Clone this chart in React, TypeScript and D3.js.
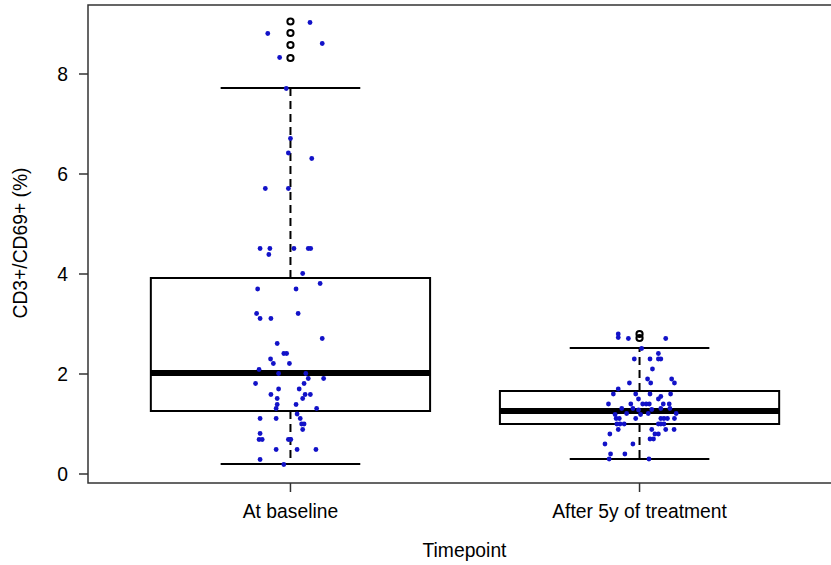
import React from "react";
import * as d3 from "d3";

const categories = ["At baseline", "After 5y of treatment"];
// [lower whisker, Q1, median, Q3, upper whisker]
const boxStats = [
  [0.2, 1.26, 2.02, 3.92, 7.72],
  [0.3, 1.0, 1.26, 1.66, 2.52],
];
const outliers = [
  [9.05, 8.82, 8.58, 8.32],
  [2.8, 2.72],
];
const yTicks = [0, 2, 4, 6, 8];

// [jitter offset (category units), value]
const baselinePoints: [number, number][] = [
  [0.056, 9.03], [-0.065, 8.81], [0.091, 8.61], [-0.031, 8.33], [-0.012, 7.71],
  [0.0, 6.71], [-0.006, 6.42], [0.061, 6.31], [-0.072, 5.71], [-0.006, 5.71],
  [-0.087, 4.51], [-0.059, 4.51], [-0.062, 4.39], [0.01, 4.51], [0.051, 4.51],
  [0.058, 4.51], [0.035, 4.01], [0.085, 3.81], [-0.094, 3.7], [0.016, 3.7],
  [-0.097, 3.21], [-0.087, 3.11], [-0.056, 3.11], [0.022, 3.21], [0.091, 2.71],
  [-0.038, 2.61], [-0.019, 2.41], [-0.011, 2.41], [-0.057, 2.3], [-0.049, 2.21],
  [-0.003, 2.21], [-0.09, 2.09], [-0.034, 2.01], [0.044, 2.01], [0.051, 1.91],
  [0.095, 1.91], [-0.1, 1.81], [0.039, 1.81], [-0.034, 1.7], [0.025, 1.7],
  [-0.056, 1.59], [0.042, 1.59], [0.057, 1.59], [-0.038, 1.51], [0.035, 1.51],
  [-0.038, 1.39], [0.016, 1.39], [-0.041, 1.31], [0.075, 1.31], [0.019, 1.2],
  [-0.087, 1.11], [-0.041, 1.11], [0.028, 1.11], [0.032, 1.0], [0.039, 1.0],
  [0.035, 0.89], [-0.087, 0.81], [-0.09, 0.69], [-0.081, 0.69], [-0.006, 0.69],
  [0.001, 0.69], [-0.041, 0.49], [0.019, 0.49], [0.073, 0.49], [-0.087, 0.29],
  [-0.019, 0.19],
];
const afterPoints: [number, number][] = [
  [-0.061, 2.8], [-0.061, 2.73], [-0.032, 2.71], [0.075, 2.71], [0.006, 2.51],
  [0.054, 2.41], [-0.015, 2.3], [0.03, 2.3], [0.054, 2.3], [0.061, 2.3],
  [0.037, 2.1], [0.023, 1.9], [0.092, 1.9], [-0.029, 1.82], [0.032, 1.82],
  [0.1, 1.82], [-0.061, 1.7], [-0.075, 1.6], [-0.011, 1.6], [0.03, 1.6],
  [0.089, 1.6], [-0.003, 1.5], [0.054, 1.5], [0.061, 1.55], [-0.089, 1.4],
  [-0.025, 1.4], [0.009, 1.4], [0.019, 1.4], [0.028, 1.4], [0.068, 1.4],
  [0.085, 1.4], [-0.051, 1.31], [-0.019, 1.31], [-0.003, 1.28], [0.035, 1.29],
  [0.061, 1.31], [0.087, 1.31], [-0.07, 1.19], [-0.037, 1.21], [0.025, 1.21],
  [0.105, 1.21], [-0.067, 1.11], [-0.058, 1.11], [-0.011, 1.11], [0.003, 1.19],
  [0.061, 1.11], [0.07, 1.11], [0.08, 1.11], [0.1, 1.11], [-0.065, 1.0],
  [-0.056, 1.0], [-0.044, 1.0], [0.054, 1.0], [0.061, 1.0], [0.07, 1.0],
  [-0.061, 0.89], [0.035, 0.89], [0.075, 0.89], [0.099, 0.89], [-0.085, 0.8],
  [0.044, 0.8], [0.054, 0.8], [0.03, 0.7], [0.04, 0.7], [-0.099, 0.6],
  [-0.019, 0.6], [-0.083, 0.4], [-0.042, 0.4], [-0.087, 0.3], [0.027, 0.3],
];
const groupPoints = [baselinePoints, afterPoints];

const W = 831;
const H = 565;
const left = 88;
const top = 5;
const bottom = 483;
const right = 842;

export default function App() {
  const x = d3.scaleLinear().domain([0.42, 2.58]).range([left, right]);
  const y = d3.scaleLinear().domain([-0.18, 9.38]).range([bottom, top]);
  const font = "Liberation Sans, Arial, sans-serif";
  const fs = 19.3;
  const boxHalf = 0.4;
  const stapleHalf = 0.2;
  return (
    <svg
      width={W}
      height={H}
      style={{ position: "absolute", left: 0, top: 0, background: "#fff" }}
      fontFamily={font}
    >
      <rect x={0} y={0} width={W} height={H} fill="#fff" />
      {boxStats.map((s, i) => {
        const c = i + 1;
        const [lw, q1, med, q3, uw] = s;
        return (
          <g key={i}>
            <line x1={x(c)} x2={x(c)} y1={y(q3)} y2={y(uw)} stroke="#000" strokeWidth={2} strokeDasharray="8,5" />
            <line x1={x(c)} x2={x(c)} y1={y(q1)} y2={y(lw)} stroke="#000" strokeWidth={2} strokeDasharray="8,5" />
            <line x1={x(c - stapleHalf)} x2={x(c + stapleHalf)} y1={y(uw)} y2={y(uw)} stroke="#000" strokeWidth={2} />
            <line x1={x(c - stapleHalf)} x2={x(c + stapleHalf)} y1={y(lw)} y2={y(lw)} stroke="#000" strokeWidth={2} />
            <rect
              x={x(c - boxHalf)}
              y={y(q3)}
              width={x(c + boxHalf) - x(c - boxHalf)}
              height={y(q1) - y(q3)}
              fill="none"
              stroke="#000"
              strokeWidth={2}
            />
            <line x1={x(c - boxHalf)} x2={x(c + boxHalf)} y1={y(med)} y2={y(med)} stroke="#000" strokeWidth={6} />
            {outliers[i].map((v, k) => (
              <circle key={k} cx={x(c)} cy={y(v)} r={3.1} fill="none" stroke="#000" strokeWidth={2} />
            ))}
          </g>
        );
      })}
      {groupPoints.map((pts, i) =>
        pts.map(([j, v], k) => (
          <circle key={`${i}-${k}`} cx={x(i + 1 + j)} cy={y(v)} r={2.4} fill="#1212c8" />
        ))
      )}
      {/* frame */}
      <rect x={left} y={top} width={right - left} height={bottom - top} fill="none" stroke="#333" strokeWidth={1.5} />
      {/* y axis */}
      {yTicks.map((t) => (
        <g key={t}>
          <line x1={left - 9} x2={left} y1={y(t)} y2={y(t)} stroke="#333" strokeWidth={1.5} />
          <text x={left - 20} y={y(t)} dy="0.36em" textAnchor="end" fontSize={fs} fill="#000">
            {t}
          </text>
        </g>
      ))}
      {/* x axis */}
      {categories.map((cName, i) => (
        <g key={cName}>
          <line x1={x(i + 1)} x2={x(i + 1)} y1={bottom} y2={bottom + 9} stroke="#333" strokeWidth={1.5} />
          <text x={x(i + 1)} y={518} textAnchor="middle" fontSize={fs} fill="#000">
            {cName}
          </text>
        </g>
      ))}
      <text x={(left + W) / 2 + 5} y={557} textAnchor="middle" fontSize={fs} fill="#000">
        Timepoint
      </text>
      <text
        transform={`translate(27,243) rotate(-90)`}
        textAnchor="middle"
        fontSize={fs}
        fill="#000"
      >
        CD3+/CD69+ (%)
      </text>
    </svg>
  );
}
